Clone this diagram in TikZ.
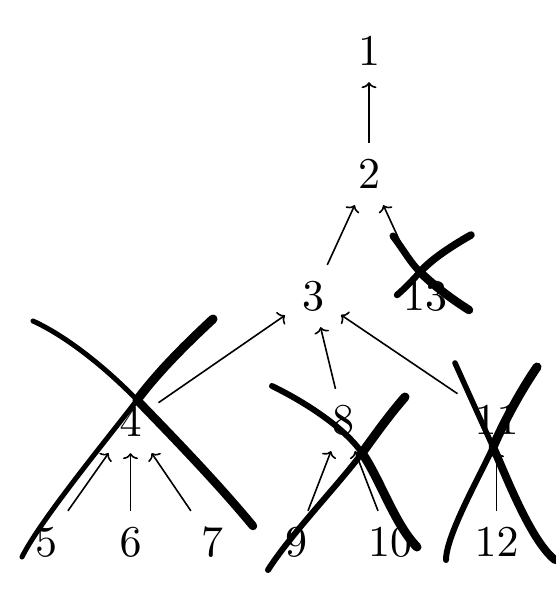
\documentclass[tikz,border=0pt]{standalone}
\usetikzlibrary{arrows.meta}
\font\bignum=cmr10 at 44pt
\begin{document}
\begin{tikzpicture}[x=1pt,y=-1pt,
  num/.style={font=\bignum, inner xsep=17pt, inner ysep=17pt, outer sep=0pt, text height=28.3pt, text depth=0pt},
  edge/.style={line width=1.6pt, -{To[length=6pt,width=15pt,line width=1.6pt]}},
  cross/.style={line cap=round, line join=round}]
\useasboundingbox (0,0) rectangle (555,594);
% nodes
\node[num] (n1) at (369,51) {1};
\node[num] (n2) at (369,174) {2};
\node[num] (n3) at (313,296) {3};
\node[num] (n13) at (425,296) {13};
\node[num] (n4) at (130.5,422) {4};
\node[num] (n8) at (343,420) {8};
\node[num] (n11) at (496.5,420) {11};
\node[num] (n5) at (46,542) {5};
\node[num] (n6) at (130.5,542) {6};
\node[num] (n7) at (212,542) {7};
\node[num] (n9) at (296,542) {9};
\node[num] (n10) at (390,542) {10};
\node[num] (n12) at (496.5,542) {12};
% edges
\draw[edge] (n2) -- (n1);
\draw[edge] (n3) -- (n2);
\draw[edge] (n13) -- (n2);
\draw[edge] (n4) -- (n3);
\draw[edge] (n8) -- (n3);
\draw[edge] (n11) -- (n3);
\draw[edge] (n5) -- (n4);
\draw[edge] (n6) -- (n4);
\draw[edge] (n7) -- (n4);
\draw[edge] (n9) -- (n8);
\draw[edge] (n10) -- (n8);
\draw[edge] (n12) -- (n11);
% X over 4
\draw[cross, line width=5pt] (33,321) .. controls (70,338) and (110,372) .. (137,400);
\draw[cross, line width=8.5pt] (137,400) .. controls (165,429) and (215,480) .. (253,526);
\draw[cross, line width=9pt] (213,319) .. controls (185,345) and (158,372) .. (137,400);
\draw[cross, line width=5pt] (137,400) .. controls (116,428) and (40,520) .. (22,557);
% X over 8
\draw[cross, line width=6pt] (272,386) .. controls (305,402) and (345,428) .. (362,453);
\draw[cross, line width=9pt] (362,453) .. controls (380,479) and (395,525) .. (417,547);
\draw[cross, line width=9pt] (405,397) .. controls (390,414) and (375,435) .. (362,453);
\draw[cross, line width=6pt] (362,453) .. controls (340,483) and (290,535) .. (268,570);
% X over 11
\draw[cross, line width=5.5pt] (455,363) .. controls (465,385) and (482,423) .. (493,447);
\draw[cross, line width=8pt] (493,447) .. controls (505,473) and (530,540) .. (555,560);
\draw[cross, line width=9pt] (537,367) .. controls (520,392) and (505,420) .. (493,447);
\draw[cross, line width=6pt] (493,447) .. controls (481,474) and (446,535) .. (446,560);
% X over 13
\draw[cross, line width=7pt] (393,236) .. controls (405,252) and (410,262) .. (420,272);
\draw[cross, line width=8.5pt] (420,272) .. controls (432,284) and (450,298) .. (469,310);
\draw[cross, line width=7.5pt] (471,235) .. controls (450,247) and (432,259) .. (420,272);
\draw[cross, line width=6.5pt] (420,272) .. controls (410,283) and (403,290) .. (397,295);
\end{tikzpicture}
\end{document}
